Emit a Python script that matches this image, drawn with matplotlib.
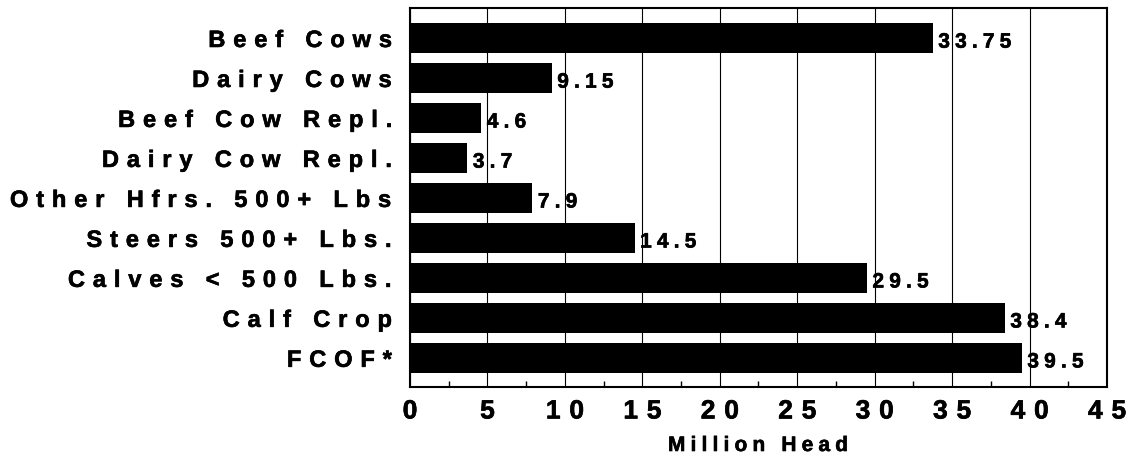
import matplotlib
matplotlib.use("Agg")
import matplotlib.pyplot as plt
import matplotlib.patheffects as pe
from matplotlib.ticker import MultipleLocator

# Cattle inventory, million head
categories = ["Beef Cows", "Dairy Cows", "Beef Cow Repl.", "Dairy Cow Repl.",
              "Other Hfrs. 500+ Lbs", "Steers 500+ Lbs.", "Calves < 500 Lbs.",
              "Calf Crop", "FCOF*"]
values = [33.75, 9.15, 4.6, 3.7, 7.9, 14.5, 29.5, 38.4, 39.5]
x_ticks = [0, 5, 10, 15, 20, 25, 30, 35, 40, 45]
x_label = "Million Head"

FONT = ["Liberation Sans", "DejaVu Sans"]
HEAVY = [pe.withStroke(linewidth=0.45, foreground="black")]  # slide font is a bit heavier


def track(s, gap="\u2004"):
    # wide letter spacing like the original slide
    return gap.join(s)


fig = plt.figure(figsize=(11.26, 4.58), dpi=100)
ax = fig.add_axes([410 / 1126, 1 - 387 / 458, 697 / 1126, 379 / 458])

pos = list(range(len(categories)))
ax.barh(pos, values, height=0.75, color="black", zorder=3)

ax.set_xlim(0, 45)
ax.set_ylim(len(categories) - 0.27, -0.75)

ax.set_xticks(x_ticks)
ax.set_xticklabels([track(str(t)) for t in x_ticks], fontsize=19,
                   fontweight="bold", family=FONT, path_effects=HEAVY)
ax.xaxis.set_minor_locator(MultipleLocator(2.5))
ax.tick_params(axis="x", which="major", length=0, pad=9)
ax.tick_params(axis="x", which="minor", direction="in", length=4, width=1,
               color="black", top=False)

ax.set_yticks(pos)
ax.set_yticklabels([track(c) for c in categories], fontsize=17,
                   fontweight="bold", family=FONT, path_effects=HEAVY)
ax.tick_params(axis="y", length=0, pad=13)

ax.set_xlabel(track(x_label, "\u2005"), fontsize=15, fontweight="bold",
              family=FONT, labelpad=9, path_effects=HEAVY)

ax.grid(axis="x", which="major", color="black", linewidth=0.8, zorder=1)
for sp in ax.spines.values():
    sp.set_linewidth(1.5)
    sp.set_color("black")

for p, v in zip(pos, values):
    ax.annotate(track(f"{v:g}", "\u2005"), (v, p), xytext=(4, -3),
                textcoords="offset points", ha="left", va="center",
                fontsize=15, fontweight="bold", family=FONT, zorder=4,
                path_effects=HEAVY)

fig.savefig("out.png", dpi=100)
